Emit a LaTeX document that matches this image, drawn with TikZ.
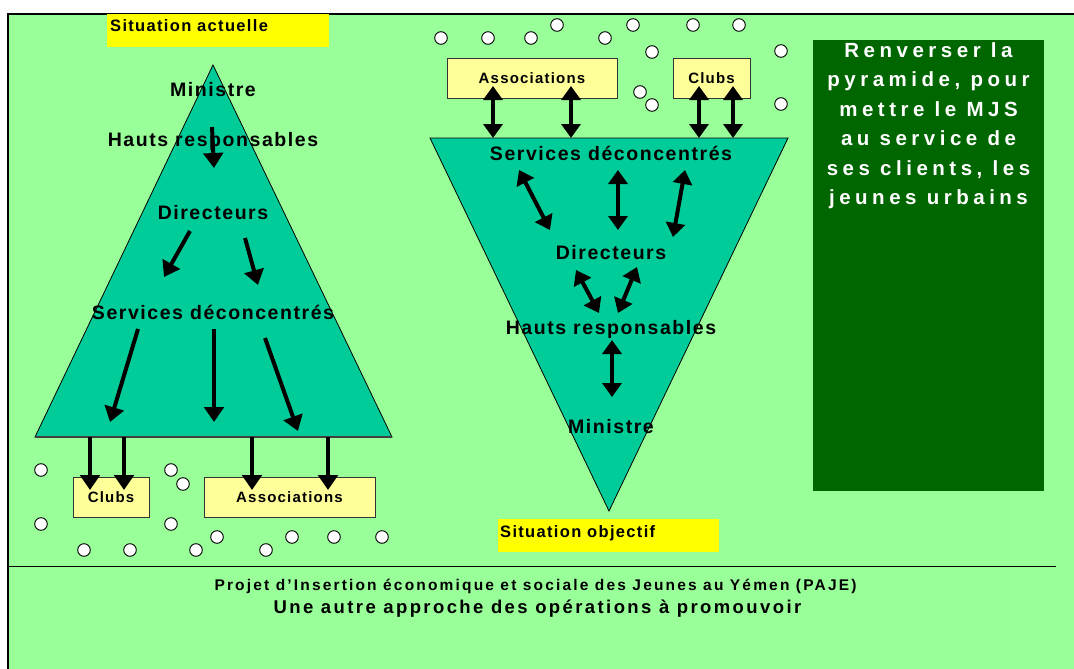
\documentclass[tikz,border=0pt]{standalone}
\usepackage{fontspec}
\setmainfont{Liberation Sans}[LetterSpace=8]
\usepackage{tikz}
\usetikzlibrary{arrows.meta}
\definecolor{fond}{HTML}{99FF99}
\definecolor{pyra}{HTML}{00CC99}
\definecolor{jaune}{HTML}{FFFF00}
\definecolor{paille}{HTML}{FFFF99}
\definecolor{sapin}{HTML}{006600}
\tikzstyle{line} = [draw, line width=4pt, -{Triangle[length=15pt,width=19.5pt]}]
\tikzstyle{dline} = [draw, line width=4pt, {Triangle[length=14pt,width=19pt]}-{Triangle[length=14pt,width=19pt]}]
\tikzstyle{lbl} = [inner sep=0pt, anchor=base, font=\bfseries\fontsize{19.5}{20}\selectfont]
\tikzstyle{tag} = [inner sep=0pt, anchor=base west, font=\bfseries\fontsize{16.5}{17}\selectfont]
\tikzstyle{box} = [draw=black!80, fill=paille, line width=0.9pt, inner sep=0pt, minimum height=40pt, font=\bfseries\fontsize{15}{15}\selectfont]
\tikzstyle{bubble} = [draw, fill=white, line width=0.9pt]
\tikzstyle{pyr} = [fill=pyra, draw=black, line width=0.8pt]

\begin{document}
\begin{tikzpicture}[x=1pt, y=-1pt]
    \useasboundingbox (0,0) rectangle (1074,669);
    % fond et cadre
    \fill[fond] (8,14) rectangle (1074,669);
    \draw[line width=1.3pt] (1074,14) -- (8,14) -- (8,669);
    \draw[line width=1pt] (8,566) -- (1056,566);

    % etiquettes jaunes
    \fill[jaune] (107,14) rectangle (329,47);
    \node[tag] (actu) at (110,32) {Situation actuelle};
    \fill[jaune] (498,519) rectangle (719,552);
    \node[tag] (obj) at (500,537) {Situation objectif};

    % les deux pyramides
    \coordinate (lt) at (213,65);
    \coordinate (ll) at (35,437);
    \coordinate (lr) at (392,437);
    \path[pyr] (lt) -- (ll) -- (lr) -- cycle;
    \draw[line width=1.6pt, black!75] (ll) -- (lr);
    \coordinate (rl) at (430,138);
    \coordinate (rr) at (788,138);
    \coordinate (rb) at (609,511);
    \path[pyr] (rl) -- (rr) -- (rb) -- cycle;

    % niveaux, pyramide actuelle
    \node[lbl] (min1) at (213,96) {Ministre};
    \node[lbl] (hr1) at (213,146) {Hauts responsables};
    \node[lbl] (dir1) at (213,219) {Directeurs};
    \node[lbl] (sd1) at (213,319) {Services déconcentrés};

    % niveaux, pyramide renversee
    \node[lbl] (sd2) at (611,160) {Services déconcentrés};
    \node[lbl] (dir2) at (611,259) {Directeurs};
    \node[lbl] (hr2) at (611,334) {Hauts responsables};
    \node[lbl] (min2) at (611,433) {Ministre};

    % clubs et associations
    \node[box, minimum width=76pt] (clubs1) at (111,497) {Clubs};
    \node[box, minimum width=171pt] (asso1) at (289.5,497) {Associations};
    \node[box, minimum width=170pt] (asso2) at (532,78) {Associations};
    \node[box, minimum width=77pt] (clubs2) at (711.5,78) {Clubs};

    % jeunes
    \foreach \x/\y in {41/470, 41/524, 171/470, 183/484, 171/524, 84/550, 130/550,
        196/550, 217/537, 266/550, 292/537, 334/537, 382/537,
        441/38, 488/38, 531/38, 557/25, 605/38, 633/25, 652/52, 693/25, 739/25,
        781/51, 640/92, 652/105, 781/104}
        \draw[bubble] (\x,\y) circle (6.3pt);

    % fleches descendantes
    \foreach \n/\x/\y in {d1/212/127, f1/214/168, d2/190/231, f2/164/277,
        d3/245/238, f3/258/285, d4/138/329, f4/110/422, d5/214/329, f5/214/422,
        d6/265/338, f6/298/431, d7/90/437, f7/90/490, d8/124/437, f8/124/490,
        d9/252/437, f9/252/490, d10/328/437, f10/328/490}
        \coordinate (\n) at (\x,\y);
    \foreach \i in {1,...,10}
        \path[line] (d\i) -- (f\i);

    % fleches doubles
    \foreach \n/\x/\y in {h1/493/86, b1/493/138, h2/571/86, b2/571/138,
        h3/699/86, b3/699/138, h4/733/86, b4/733/138,
        h5/519/170, b5/550/230, h6/618/170, b6/618/230, h7/685/170, b7/673/237,
        h8/576/270, b8/599/313, h9/637/267, b9/618/313, h10/612/340, b10/612/397}
        \coordinate (\n) at (\x,\y);
    \foreach \i in {1,...,10}
        \path[dline] (h\i) -- (b\i);

    % message
    \fill[sapin] (813,40) rectangle (1044,491);
    \node[anchor=north, align=center, inner sep=0pt, text=white,
        font=\bfseries\fontsize{20.5}{29.4}\selectfont\addfontfeatures{LetterSpace=22}]
        (msg) at (928.5,42.5) {Renverser la\\pyramide, pour\\mettre le MJS\\au service de\\ses clients, les\\jeunes urbains};

    % titre
    \node[anchor=base, inner sep=0pt, font=\bfseries\fontsize{15.5}{15.5}\selectfont\addfontfeatures{LetterSpace=14}] (projet) at (535.5,590)
        {Projet d’Insertion économique et sociale des Jeunes au Yémen (PAJE)};
    \node[anchor=base, inner sep=0pt, font=\bfseries\fontsize{18.5}{18.5}\selectfont\addfontfeatures{LetterSpace=13}] (approche) at (537.5,613)
        {Une autre approche des opérations à promouvoir};
\end{tikzpicture}
\end{document}
